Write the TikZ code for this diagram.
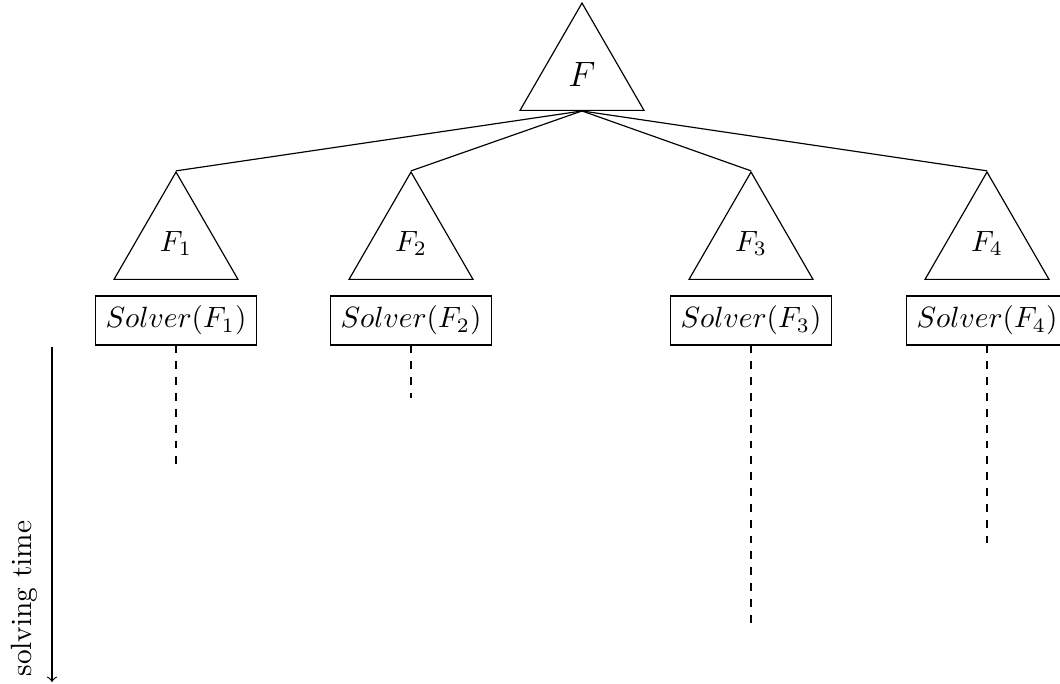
\documentclass[tikz,border=0pt]{standalone}
\usetikzlibrary{shapes.geometric}
\begin{document}
\begin{tikzpicture}[
  x=0.341pt, y=-0.341pt,
  tri/.style={draw, regular polygon, regular polygon sides=3, minimum size=48.8pt, inner sep=0pt},
  solverbox/.style={draw, inner sep=3.33pt},
  timeline/.style={dash pattern=on 2.7pt off 2.7pt}
]
\useasboundingbox (0,0) rectangle (1060,684);
\clip (0,0) rectangle (1060,684);

% the whole formula and its four parts
\node[tri] (F)  at (582,74.6)  {\large $F$};
\node[tri] (F1) at (176,243.6) {$F_1$};
\node[tri] (F2) at (411,243.6) {$F_2$};
\node[tri] (F3) at (751,243.6) {$F_3$};
\node[tri] (F4) at (987,243.6) {$F_4$};

\foreach \c in {F1,F2,F3,F4}
  \draw (F.south) -- (\c.corner 1);

% one solver per part
\node[solverbox] (S1) at (176,320.5) {$Solver(F_1)$};
\node[solverbox] (S2) at (411,320.5) {$Solver(F_2)$};
\node[solverbox] (S3) at (751,320.5) {$Solver(F_3)$};
\node[solverbox] (S4) at (987,320.5) {$Solver(F_4)$};

% how long each solver runs
\coordinate (e1) at (176,466);
\coordinate (e2) at (411,398);
\coordinate (e3) at (751,626);
\coordinate (e4) at (987,546);
\draw[timeline] (S1.south) -- (e1);
\draw[timeline] (S2.south) -- (e2);
\draw[timeline] (S3.south) -- (e3);
\draw[timeline] (S4.south) -- (e4);

% time axis
\coordinate (t0) at (52,347);
\coordinate (t1) at (52,682);
\draw[->] (t0) -- (t1);
\node[rotate=90, anchor=base west, inner sep=0pt] (tl) at (32,677) {solving time};
\end{tikzpicture}
\end{document}
